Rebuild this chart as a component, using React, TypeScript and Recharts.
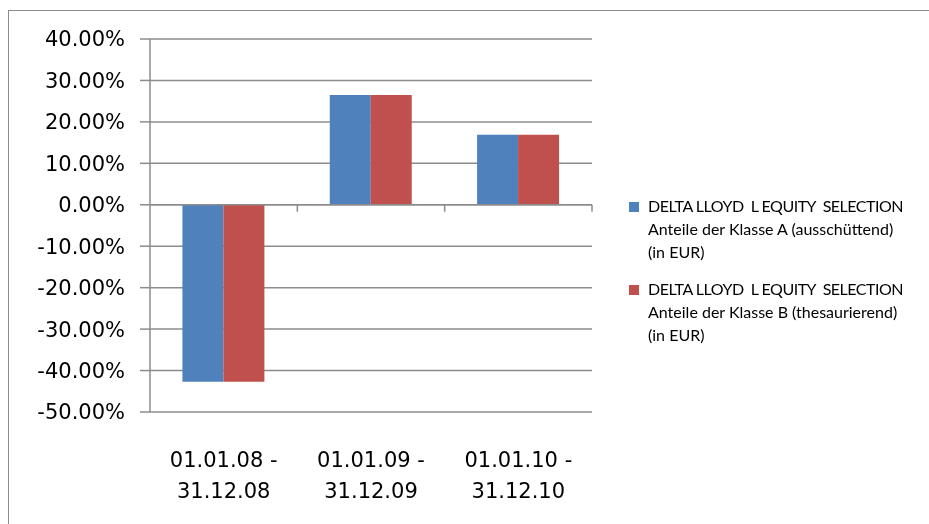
import {
  BarChart,
  Bar,
  XAxis,
  YAxis,
  CartesianGrid,
  ReferenceLine,
} from 'recharts'

const periods = ['01.01.08 - 31.12.08', '01.01.09 - 31.12.09', '01.01.10 - 31.12.10']
const classA = [-42.7, 26.5, 16.9]
const classB = [-42.7, 26.5, 16.9]
const yTicks = [-50, -40, -30, -20, -10, 0, 10, 20, 30, 40]

const seriesNames = [
  ['DELTA LLOYD  L EQUITY  SELECTION', 'Anteile der Klasse A (ausschüttend)', '(in EUR)'],
  ['DELTA LLOYD  L EQUITY  SELECTION', 'Anteile der Klasse B (thesaurierend)', '(in EUR)'],
]
const seriesColors = ['#4F81BD', '#C0504D']

const data = periods.map((p, i) => ({ period: p, a: classA[i], b: classB[i] }))

const AXIS_GRAY = '#8c8c8c'
const AXIS_FONT = '"DejaVu Sans", sans-serif'

function PeriodTick({ x, y, payload }: any) {
  const [from, to] = String(payload.value).split(' - ')
  return (
    <text x={x} y={y} textAnchor="middle" fill="#000" fontSize={21} fontFamily={AXIS_FONT}>
      <tspan x={x} dy={55}>{from} -</tspan>
      <tspan x={x} dy={31}>{to}</tspan>
    </text>
  )
}

// zero line with the category divider ticks hanging below it
function ZeroLine({ x1, y1, x2, y2 }: any) {
  const n = periods.length
  const step = (x2 - x1) / n
  return (
    <g>
      <line x1={x1} y1={y1} x2={x2} y2={y2} stroke={AXIS_GRAY} strokeWidth={1.5} />
      {periods.map((_, k) => {
        const tx = x1 + step * (k + 1)
        return <line key={k} x1={tx} y1={y1} x2={tx} y2={y1 + 7} stroke={AXIS_GRAY} strokeWidth={1.5} />
      })}
    </g>
  )
}

export default function App() {
  return (
    <div style={{ position: 'relative', width: 913, height: 508, overflow: 'hidden', background: '#fff' }}>
      <div
        style={{
          position: 'fixed',
          left: 8,
          top: 10,
          width: 1000,
          height: 1000,
          border: `1.5px solid ${AXIS_GRAY}`,
        }}
      />
      <div style={{ position: 'absolute', left: 0, top: 0 }}>
        <BarChart
          width={913}
          height={508}
          data={data}
          margin={{ top: 31, right: 329, bottom: 4, left: 0 }}
          barCategoryGap="22%"
          barGap={0}
        >
          <CartesianGrid horizontal vertical={false} stroke={AXIS_GRAY} strokeWidth={1.5} />
          <XAxis
            dataKey="period"
            axisLine={false}
            tickLine={false}
            tickSize={0}
            tickMargin={0}
            height={100}
            interval={0}
            tick={<PeriodTick />}
          />
          <YAxis
            width={142}
            domain={[-50, 40]}
            ticks={yTicks}
            interval={0}
            tickFormatter={(v: number) => `${v.toFixed(2)}%`}
            axisLine={{ stroke: AXIS_GRAY, strokeWidth: 1.5 }}
            tickLine={{ stroke: AXIS_GRAY, strokeWidth: 1.5 }}
            tickSize={10}
            tickMargin={15}
            tick={{ fill: '#000', fontSize: 21, fontFamily: AXIS_FONT }}
          />
          <Bar dataKey="a" fill={seriesColors[0]} isAnimationActive={false} />
          <Bar dataKey="b" fill={seriesColors[1]} isAnimationActive={false} />
          <ReferenceLine y={0} shape={<ZeroLine />} />
        </BarChart>
      </div>

      {/* Legend */}
      <div style={{ position: 'absolute', left: 621, top: 186, fontFamily: 'Lato, sans-serif', fontSize: 16, lineHeight: '23px', color: '#000' }}>
        {seriesNames.map((lines, i) => (
          <div key={i} style={{ position: 'relative', paddingLeft: 19, marginBottom: i === 0 ? 14 : 0 }}>
            <div
              style={{
                position: 'absolute',
                left: 0,
                top: 8,
                width: 10,
                height: 10,
                backgroundColor: seriesColors[i],
              }}
            />
            {lines.map((l, j) => (
              <div key={j} style={{ whiteSpace: 'pre', letterSpacing: j === 0 ? -0.5 : 0 }}>{l}</div>
            ))}
          </div>
        ))}
      </div>
    </div>
  )
}
